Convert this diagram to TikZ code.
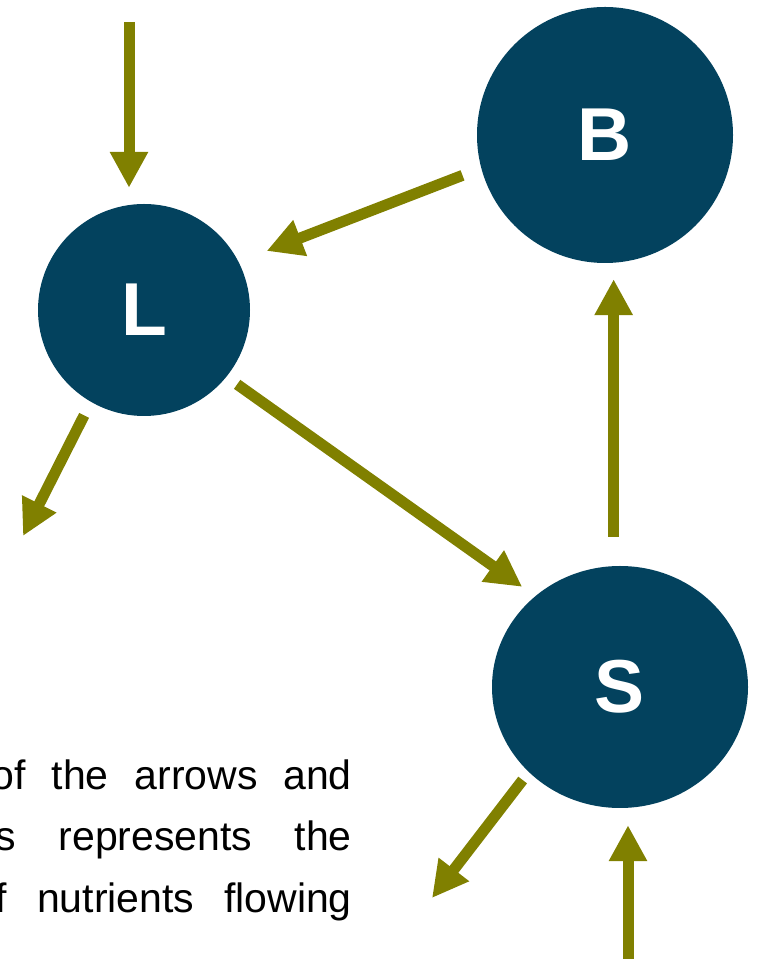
\documentclass[tikz,border=0pt]{standalone}
\usepackage{fontspec}
\setmainfont{Liberation Sans}
\usetikzlibrary{arrows.meta,shapes.geometric}

\definecolor{poolblue}{RGB}{3,66,94}
\definecolor{flowolive}{RGB}{128,128,0}

\tikzset{
  pool/.style={circle, fill=poolblue, text=white, inner sep=0pt,
    font=\fontsize{75}{75}\selectfont\bfseries},
  flow/.style={draw=flowolive, line width=11pt,
    -{Triangle[length=36pt, width=36pt]}},
  caption/.style={anchor=base east, inner sep=0pt,
    font=\fontsize{41}{41}\selectfont}
}

\begin{document}
\begin{tikzpicture}[x=1pt, y=1pt]

\path[use as bounding box, clip] (0,0) rectangle (758,959);

% Pools
\node[pool, minimum size=212pt] (L) at (144,649) {L};
\node[pool, minimum size=256pt] (B) at (605,824) {B};
\node[pool, ellipse, minimum width=256pt, minimum height=242pt] (S) at (620,272) {S};

% Loose ends
\coordinate (inL) at (129,937);
\coordinate (outL) at (23,423);
\coordinate (outS) at (432,61);
\coordinate (inS) at (628,0);

% Flows
\draw[flow, shorten >=16pt] (inL) -- (inL |- L.north);
\draw[flow, shorten <=20pt, shorten >=30pt] (B.-165) -- (L.27);
\draw[flow, shorten <=13pt, shorten >=16pt] (L.-39) -- (S.133);
\draw[flow, shorten <=29pt, shorten >=16pt] (S.93) -- (S.93 |- B.south);
\draw[flow, shorten <=15pt] (L.-120) -- (outL);
\draw[flow, shorten <=10pt] (S.-137) -- (outS);
\draw[flow, shorten >=17pt] (inS) -- (inS |- S.south);

% Caption
\node[caption] (c1) at (352,169) {\makebox[360pt][s]{of the arrows and}};
\node[caption] (c2) at (352,108) {\makebox[356pt][s]{s represents the}};
\node[caption] (c3) at (352,46) {\makebox[356pt][s]{f nutrients flowing}};

\end{tikzpicture}
\end{document}
